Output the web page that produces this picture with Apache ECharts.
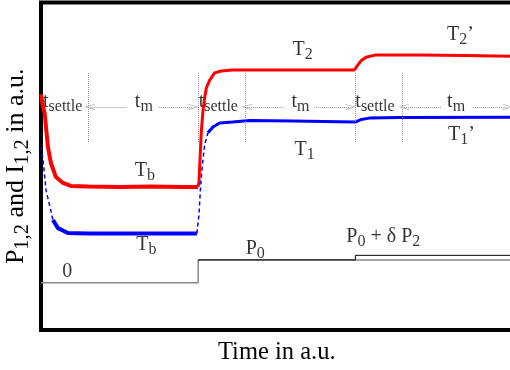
<!DOCTYPE html>
<html>
<head>
<meta charset="utf-8">
<script src="https://cdn.jsdelivr.net/npm/echarts@6/dist/echarts.min.js"></script>
<style>
html, body { margin: 0; padding: 0; background: #fff; }
#main { width: 510px; height: 370px; }
</style>
</head>
<body>
<div id="main"></div>
<script>
// time in a.u. (one heating step every 100), signal in a.u. (0..100)
var redBase = [[0, 72], [1.3, 68.1], [2.3, 66.3], [4.4, 55.9], [6.3, 51.0], [9.5, 46.7], [14, 44.9],
    [19, 44.0], [30, 43.8], [50, 43.7], [70, 43.8], [90, 43.7], [99.9, 43.7]];
var redHeated = [[99.9, 43.7], [100.5, 45.2], [101.4, 54.4], [102, 60.5], [103, 66.6], [104.1, 70.8],
    [105.2, 73.9], [107.3, 76.3], [110.5, 78.5], [114.7, 79.1], [121.9, 79.4], [150, 79.4], [180, 79.4],
    [199.4, 79.4], [201.5, 80.9], [203.6, 82.2], [206.8, 83.3], [213.1, 84.0], [240, 84.0], [270, 83.8], [300, 83.6]];
var blueDecay = [[0, 56], [1.3, 51.9], [3.2, 42.7], [5.7, 37.6], [7.6, 33.6]];
var blueBase = [[7.6, 33.6], [10.8, 31.1], [17.1, 29.6], [30, 29.5], [60, 29.5], [99.2, 29.5]];
var blueRise = [[99.2, 29.5], [100.5, 35.1], [101.6, 44.3], [102.7, 50.4], [104.1, 56.5], [106.2, 60.2]];
var blueHeated = [[106.2, 60.2], [109.4, 62.0], [113.7, 63.2], [121.9, 63.5], [132.7, 64.0], [160, 63.8],
    [200, 63.5], [203.8, 64.3], [208.9, 64.7], [228, 64.9], [300, 65.0]];
var power1 = [[0, 14.4], [100, 14.4], [100, 21.4], [300, 21.4]];
var power2 = [[100, 21.4], [200, 21.4], [200, 22.8], [300, 22.8]];

// settle / measurement markers
var guideTimes = [30, 100, 130, 200, 230];
var guideSpan = [57.4, 78.8];
var arrowLevel = 68.1;
var arrowSpans = [[54.5, 31], [75, 97], [154.5, 131], [175, 197], [254.5, 231], [275, 297]];

// [t, v, text]
var labels = [
    [1.3, 69.8, '{m|t}{s|settle}'], [100.3, 69.8, '{m|t}{s|settle}'], [200, 69.8, '{m|t}{s|settle}'],
    [59.7, 69.8, '{m|t}{s|m}'], [159.4, 69.8, '{m|t}{s|m}'], [258.4, 69.8, '{m|t}{s|m}'],
    [160, 85.5, '{m|T}{s|2}'], [258.4, 90.1, '{m|T}{s|2}{m|’}'],
    [161.3, 55.0, '{m|T}{s|1}'], [259, 59.5, '{m|T}{s|1}{m|’}'],
    [59.7, 48.5, '{m|T}{s|b}'], [60.6, 26.0, '{m|T}{s|b}'],
    [13.5, 17.7, '{m|0}'], [130.2, 24.7, '{m|P}{s|0}'], [194.3, 28.5, '{m|P}{s|0}{m| + δ P}{s|2}']
];

var serif = 'Liberation Serif';
var chevron = 'path://M5,0L10,10L9,10L5,2L1,10L0,10Z';

function lineSeries(data, color, width, dashed) {
    return {
        type: 'line',
        data: data,
        showSymbol: false,
        lineStyle: { color: color, width: width, type: dashed ? [4, 3] : 'solid' }
    };
}

function main() {
    var chart = echarts.init(document.getElementById('main'));
    var guideLines = guideTimes.map(function (t) {
        return [{ coord: [t, guideSpan[0]] }, { coord: [t, guideSpan[1]] }];
    });
    var arrowLines = arrowSpans.map(function (a) {
        return [{ coord: [a[0], arrowLevel], symbol: 'none' },
            { coord: [a[1], arrowLevel], symbol: chevron, symbolSize: [6, 10] }];
    });
    var option = {
        animation: false,
        grid: {
            left: 41, right: -2.5, top: 2.5, bottom: 40, outerBoundsMode: 'none',
            show: true, borderColor: '#000', borderWidth: 4
        },
        xAxis: {
            type: 'value', min: 0, max: 300,
            name: 'Time in a.u.', nameLocation: 'middle', nameGap: 10,
            nameTextStyle: { fontFamily: serif, fontSize: 24.5, color: '#000' },
            axisLine: { show: false }, axisTick: { show: false }, axisLabel: { show: false }, splitLine: { show: false }
        },
        yAxis: {
            type: 'value', min: 0, max: 100,
            name: '{m|P}{s|1,2}{m| and I}{s|1,2}{m| in a.u.}', nameLocation: 'middle', nameGap: 8,
            nameTextStyle: {
                color: '#000',
                rich: {
                    m: { fontFamily: serif, fontSize: 26, color: '#000' },
                    s: { fontFamily: serif, fontSize: 20.5, color: '#000', padding: [13, 0, 0, 0] }
                }
            },
            axisLine: { show: false }, axisTick: { show: false }, axisLabel: { show: false }, splitLine: { show: false }
        },
        series: [
            lineSeries(power1, '#888', 1.5, false),
            lineSeries(power2, '#000', 1, false),
            lineSeries(redBase, '#ff0000', 4, false),
            lineSeries(redHeated, '#ff0000', 3, false),
            lineSeries(blueDecay, '#0000ff', 1.5, true),
            lineSeries(blueBase, '#0000ff', 4, false),
            lineSeries(blueRise, '#0000ff', 1.5, true),
            lineSeries(blueHeated, '#0000ff', 3, false),
            {
                type: 'scatter',
                symbolSize: 0,
                data: labels.map(function (l) { return { value: [l[0], l[1]], text: l[2] }; }),
                label: {
                    show: true, position: 'right', distance: 0, align: 'left', verticalAlign: 'middle',
                    formatter: function (p) { return p.data.text; },
                    rich: {
                        m: { fontFamily: serif, fontSize: 20, color: '#000' },
                        s: { fontFamily: serif, fontSize: 16, color: '#000', padding: [10, 0, 0, 0] }
                    }
                },
                markLine: {
                    silent: true,
                    symbol: ['none', 'none'],
                    label: { show: false },
                    lineStyle: { color: '#999', type: 'dotted', width: 1 },
                    data: guideLines.concat(arrowLines)
                }
            }
        ]
    };
    chart.setOption(option);
}
main();
</script>
</body>
</html>
